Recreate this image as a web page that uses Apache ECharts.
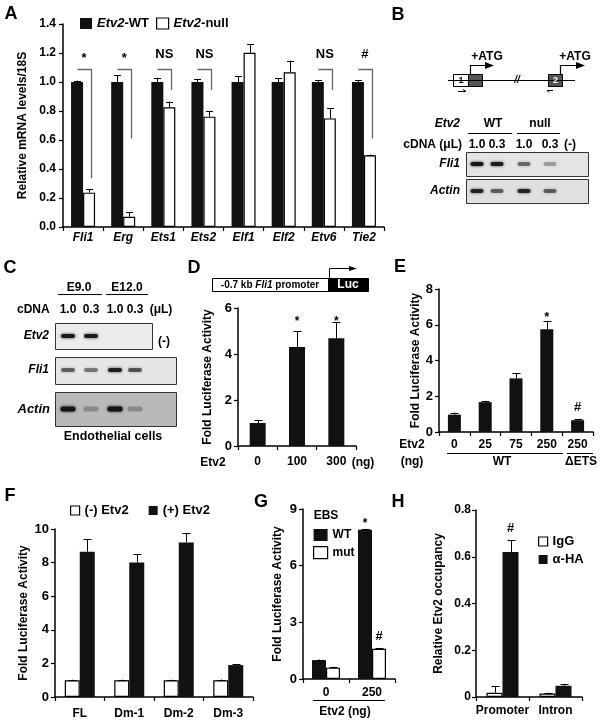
<!DOCTYPE html>
<html><head><meta charset="utf-8">
<script src="https://cdn.jsdelivr.net/npm/echarts@6/dist/echarts.min.js"></script>
<style>html,body{margin:0;padding:0;background:#fff}#c{width:603px;height:724px}</style>
</head><body><div id="c"></div><script>
// ---------- DATA ----------
const aCats = ['Fli1','Erg','Ets1','Ets2','Elf1','Elf2','Etv6','Tie2'];
const aWT = [1,1,1,1,1,1,1,1];
const aWTErr = [0.01,0.045,0.03,0.022,0.04,0.025,0.014,0.014];
const aNull = [0.237,0.071,0.825,0.761,1.202,1.067,0.749,0.494];
const aNullErr = [0.023,0.03,0.04,0.04,0.058,0.08,0.07,0.005];
const aSig = ['*','*','NS','NS','','','NS','#'];
const aBracketEnd = [0.336,0.61,0.945,0.945,null,null,0.945,0.61];

const dCats = ['0','100','300'];
const dVals = [1.0,4.3,4.68];
const dErr = [0.12,0.7,0.7];
const dSig = ['','*','*'];

const eCats = ['0','25','75','250','250d'];
const eTickLabels = ['0','25','75','250','250'];
const eVals = [0.97,1.67,3.0,5.75,0.66];
const eErr = [0.12,0.07,0.3,0.47,0.05];
const eSig = ['','','','*','#'];

const fCats = ['FL','Dm-1','Dm-2','Dm-3'];
const fNeg = [1.0,1.0,1.0,1.0];
const fNegErr = [0.03,0.03,0.03,0.04];
const fPos = [8.65,8.0,9.2,1.9];
const fPosErr = [0.75,0.5,0.55,0.05];

const gCats = ['0','250'];
const gWT = [1.0,7.9];
const gWTErr = [0.03,0.05];
const gMut = [0.6,1.6];
const gMutErr = [0.05,0.05];

const hCats = ['Promoter','Intron'];
const hIgG = [0.018,0.015];
const hIgGErr = [0.028,0.003];
const hHA = [0.62,0.048];
const hHAErr = [0.05,0.008];

// ---------- STYLE ----------
const FF = '"Liberation Sans", Arial, Helvetica, sans-serif';
const BLK = '#111';
const chart = echarts.init(document.getElementById('c'), null, {width:603, height:724});

function lab(extra) {
  return Object.assign({color:'#000', fontFamily:FF, fontWeight:'bold', fontSize:12, margin:6, interval:0, hideOverlap:false}, extra || {});
}
function xAx(gi, cats, opt) {
  return Object.assign({
    type:'category', gridIndex:gi, data:cats,
    axisLine:{lineStyle:{color:'#000', width:1.5}},
    axisTick:{show:true, length:4, lineStyle:{color:'#000', width:1.2}},
    axisLabel:lab(),
    splitLine:{show:false}
  }, opt || {});
}
function yAx(gi, max, interval, opt) {
  return Object.assign({
    type:'value', gridIndex:gi, min:0, max:max, interval:interval,
    axisLine:{show:true, lineStyle:{color:'#000', width:1.5}},
    axisTick:{show:true, length:4, lineStyle:{color:'#000', width:1.2}},
    axisLabel:{color:'#000', fontFamily:FF, fontWeight:'bold', fontSize:13, margin:6},
    splitLine:{show:false},
    nameLocation:'middle', nameRotate:90,
    nameTextStyle:{color:'#000', fontFamily:FF, fontWeight:'bold', fontSize:12}
  }, opt || {});
}
function bar(name, xi, data, color, w, opt) {
  return Object.assign({
    name:name, type:'bar', xAxisIndex:xi, yAxisIndex:xi, data:data, barWidth:w, barGap:'0%',
    itemStyle: color === '#fff' ? {color:'#fff', borderColor:'#000', borderWidth:1.2} : {color:color},
    silent:true, z:3
  }, opt || {});
}
function errs(xi, vals, errsArr, offset, cap) {
  return {
    type:'custom', xAxisIndex:xi, yAxisIndex:xi, silent:true, z:6,
    data: vals.map((v,i)=>[i, v, errsArr[i]]),
    renderItem:(p, api)=>{
      const c = api.value(0), v = api.value(1), e = api.value(2);
      const p0 = api.coord([c, v]), p1 = api.coord([c, v + e]);
      const x = Math.round(p0[0] + offset) + 0.5;
      return {type:'group', children:[
        {type:'line', shape:{x1:x, y1:p0[1], x2:x, y2:p1[1]}, style:{stroke:'#000', lineWidth:1}},
        {type:'line', shape:{x1:x-cap/2, y1:Math.round(p1[1])+0.5, x2:x+cap/2, y2:Math.round(p1[1])+0.5}, style:{stroke:'#000', lineWidth:1}}
      ]};
    }
  };
}
// annotation texts positioned via axis scales
function notes(xi, texts, ys, offset, size) {
  const data = [];
  texts.forEach((t,i)=>{ if (t) data.push([i, ys[i], i]); });
  return {
    type:'custom', xAxisIndex:xi, yAxisIndex:xi, silent:true, z:7, data:data,
    renderItem:(p, api)=>{
      const c = api.value(0), y = api.value(1), k = api.value(2);
      const pt = api.coord([c, y]);
      const t = texts[k];
      return {type:'text', x: pt[0] + offset, y: pt[1] + (t === '*' ? 4 : 0),
        style:{text:t, fill:'#000', font:'bold ' + (size||13) + 'px ' + FF, textAlign:'center', textVerticalAlign:'middle'}};
    }
  };
}
// A: significance brackets
const aBracketY = 1.09;
function brackets() {
  const data = [];
  aBracketEnd.forEach((v,i)=>{ if (v != null) data.push([i, v]); });
  return {
    type:'custom', xAxisIndex:0, yAxisIndex:0, silent:true, z:6, data:data,
    renderItem:(p, api)=>{
      const c = api.value(0), v = api.value(1);
      const top = api.coord([c, aBracketY]), end = api.coord([c, v]);
      const xL = Math.round(top[0] - 6) + 0.5, xR = Math.round(top[0] + 8) + 0.5, yT = Math.round(top[1]) + 0.5;
      return {type:'polyline', shape:{points:[[xL, yT],[xR, yT],[xR, end[1]]]}, style:{stroke:'#666', lineWidth:1.3, fill:null}};
    }
  };
}

// ---------- graphics (panel letters, gels, diagrams) ----------
const G = [];
function T(x, y, text, o) {
  o = o || {};
  G.push({type:'text', x:x, y:y, rotation:o.rot||0, z:20, silent:true,
    style:{text:text, fill:o.fill||'#000', font:(o.italic?'italic ':'') + 'bold ' + (o.size||12) + 'px ' + FF,
      textAlign:o.align||'center', textVerticalAlign:'middle',
      rich:{i:{fontStyle:'italic', fontWeight:'bold', fontSize:o.size||12, fontFamily:FF, fill:o.fill||'#000'}}}});
}
function R(x, y, w, h, fill, stroke, lw) {
  G.push({type:'rect', z:15, silent:true, shape:{x:x, y:y, width:w, height:h},
    style:{fill:fill, stroke:stroke||null, lineWidth:lw||1}});
}
function L(x1, y1, x2, y2, lw, col) {
  G.push({type:'line', z:16, silent:true, shape:{x1:x1, y1:y1, x2:x2, y2:y2}, style:{stroke:col||'#000', lineWidth:lw||1}});
}
function PL(pts, lw) {
  G.push({type:'polyline', z:16, silent:true, shape:{points:pts}, style:{stroke:'#000', lineWidth:lw||1, fill:null}});
}
function TRI(pts) {
  G.push({type:'polygon', z:16, silent:true, shape:{points:pts}, style:{fill:'#000'}});
}
function band(cx, cy, w, h, alpha) {
  G.push({type:'rect', z:17, silent:true, shape:{x:cx-w/2, y:cy-h/2, width:w, height:h, r:2},
    style:{fill:'rgba(20,20,20,' + alpha + ')', shadowBlur:3, shadowColor:'rgba(20,20,20,' + alpha + ')'}});
}

// panel letters
T(11, 14, 'A', {size:18}); T(398, 15, 'B', {size:18}); T(10, 268, 'C', {size:18});
T(194, 268, 'D', {size:18}); T(400, 267, 'E', {size:18}); T(10, 496, 'F', {size:18});
T(261, 502, 'G', {size:18}); T(398, 502, 'H', {size:18});

// ---- B: gene diagram ----
L(448, 80.5, 575, 80.5, 1);
R(453.5, 74.5, 15, 12, '#fff', '#000', 1);
R(468.5, 74.5, 14, 12, '#555', '#000', 1);
T(461, 81, '1', {size:9});
T(517, 80, '//', {size:10, italic:true});
R(548.5, 74.5, 14, 12, '#555', '#000', 1);
T(555.5, 81, '2', {size:9, fill:'#fff'});
PL([[470.5, 74],[470.5, 65.5],[486, 65.5]], 1.2);
TRI([[485, 62],[494, 65.5],[485, 69]]);
T(487, 57, '+ATG', {size:12});
PL([[560.5, 74],[560.5, 65.5],[577, 65.5]], 1.2);
TRI([[576, 62],[585, 65.5],[576, 69]]);
T(575, 57, '+ATG', {size:12});
PL([[458, 91.5],[466, 91.5],[463, 89.5]], 1);
PL([[553, 90.5],[547, 90.5],[549, 92.5]], 1);

// ---- B: gel ----
T(460, 124, '{i|Etv2}', {align:'right'});
T(493, 124, 'WT'); T(540, 124, 'null');
L(468, 133.5, 512, 133.5, 1); L(517, 133.5, 560, 133.5, 1);
T(462, 145, 'cDNA (\u03bcL)', {align:'right'});
const bLanes = [477, 497, 524, 550];
['1.0','0.3','1.0','0.3'].forEach((t,i)=>T(bLanes[i], 145, t));
T(570, 145, '(-)');
R(466.5, 152.5, 122, 24, '#e4e4e4', '#333', 1);
R(466.5, 179.5, 122, 24, '#e0e0e0', '#333', 1);
T(460, 164, '{i|Fli1}', {align:'right'});
T(460, 191, '{i|Actin}', {align:'right'});
[0.95, 0.9, 0.5, 0.3].forEach((a,i)=>band(bLanes[i], 164, 13, 4, a));
[0.85, 0.55, 0.85, 0.55].forEach((a,i)=>band(bLanes[i], 191, 13, 4, a));

// ---- C: gel ----
T(79, 288, 'E9.0'); T(127, 288, 'E12.0');
L(58, 294.5, 102, 294.5, 1); L(106, 294.5, 148, 294.5, 1);
T(17, 310, 'cDNA', {align:'left'});
const cLanes = [68, 91, 115, 135];
['1.0','0.3','1.0','0.3'].forEach((t,i)=>T(cLanes[i], 310, t));
T(161, 310, '(\u03bcL)');
R(55.5, 323.5, 97, 26, '#ececec', '#333', 1);
R(55.5, 357.5, 121, 27, '#e6e6e6', '#333', 1);
R(55.5, 392.5, 121, 34, '#b9b9b9', '#333', 1);
T(49, 336, '{i|Etv2}', {align:'right'});
T(49, 370, '{i|Fli1}', {align:'right'});
T(50, 409, '{i|Actin}', {align:'right', size:13});
T(164, 342, '(-)');
[0.95, 0.9].forEach((a,i)=>band(cLanes[i], 336, 14, 4, a));
[0.55, 0.45, 0.9, 0.6].forEach((a,i)=>band(cLanes[i], 370, 14, 4, a));
[0.95, 0.25, 1.0, 0.25].forEach((a,i)=>band(cLanes[i], 409, 15, 5, a));
T(113, 437, 'Endothelial cells', {size:12.5});

// ---- D: promoter construct ----
R(212.5, 278.5, 116, 13, '#fff', '#000', 1);
R(328.5, 278.5, 40, 13, '#000', '#000', 1);
T(270, 285, '-0.7 kb {i|Fli1} promoter', {size:10});
T(348, 285, 'Luc', {size:12, fill:'#fff'});
PL([[329.5, 278],[329.5, 268.5],[350, 268.5]], 1);
TRI([[349, 266],[357, 268.5],[349, 271]]);
T(213, 463, 'Etv2', {size:12}); T(363, 463, '(ng)', {size:12});

// ---- E extras ----
T(412, 445, 'Etv2', {size:12}); T(412, 462, '(ng)', {size:12});
L(447, 453.5, 563, 453.5, 1); L(567, 453.5, 593, 453.5, 1);
T(502, 462, 'WT', {size:12}); T(581, 462, '\u0394ETS', {size:12});

// ---- G extras ----
T(326, 516, 'EBS', {size:12});
L(313, 700.5, 385, 700.5, 1);
T(345, 712, 'Etv2 (ng)', {size:12});

// ---------- OPTION ----------
function legendText(sz) {
  return {color:'#000', fontFamily:FF, fontWeight:'bold', fontSize:sz,
    rich:{i:{fontStyle:'italic', fontWeight:'bold', fontSize:sz, fontFamily:FF, color:'#000'}}};
}
const whiteIcon = {color:'#fff', borderColor:'#000', borderWidth:1.2};
const blackIcon = {color:BLK};

const option = {
  animation:false,
  backgroundColor:'#fff',
  grid:[
    {left:63, top:24, width:321, height:203},   // A
    {left:238, top:308, width:118, height:138}, // D
    {left:439, top:289, width:154, height:143}, // E
    {left:55, top:529, width:198, height:168},  // F
    {left:303, top:509, width:92, height:170},  // G
    {left:476, top:510, width:106, height:187}  // H
  ],
  xAxis:[
    xAx(0, aCats, {axisLabel:lab({fontStyle:'italic', margin:5})}),
    xAx(1, dCats, {axisLabel:lab({margin:10})}),
    xAx(2, eCats, {axisLabel:lab({margin:7, formatter:(v, i)=>eTickLabels[i]})}),
    xAx(3, fCats, {axisLabel:lab({margin:11})}),
    xAx(4, gCats, {axisLabel:lab({margin:8})}),
    xAx(5, hCats, {axisLabel:lab({margin:8})})
  ],
  yAxis:[
    yAx(0, 1.4, 0.2, {name:'Relative mRNA levels/18S', nameGap:33,
      axisLabel:{color:'#000', fontFamily:FF, fontWeight:'bold', fontSize:12, margin:7, formatter:v=>v.toFixed(1)}}),
    yAx(1, 6, 2, {name:'Fold Luciferase Activity', nameGap:24}),
    yAx(2, 8, 2, {name:'Fold Luciferase Activity', nameGap:11}),
    yAx(3, 10, 2, {name:'Fold Luciferase Activity', nameGap:25}),
    yAx(4, 9, 3, {name:'Fold Luciferase Activity', nameGap:19}),
    yAx(5, 0.8, 0.2, {name:'Relative Etv2 occupancy', nameGap:31,
      axisLabel:{color:'#000', fontFamily:FF, fontWeight:'bold', fontSize:12, margin:5, formatter:v=> v===0 ? '0' : v.toFixed(1)}})
  ],
  legend:[
    {left:80, top:17, padding:0, itemWidth:12, itemHeight:11, itemGap:7, selectedMode:false, textStyle:legendText(13), z:10,
      formatter:n=>n.replace('Etv2','{i|Etv2}'),
      data:[{name:'Etv2-WT', itemStyle:blackIcon, icon:'rect'}, {name:'Etv2-null', itemStyle:whiteIcon, icon:'rect'}]},
    {left:70, top:504, padding:0, itemWidth:9, itemHeight:9, itemGap:20, selectedMode:false, textStyle:legendText(13), z:10,
      data:[{name:'(-) Etv2', itemStyle:whiteIcon, icon:'rect'}, {name:'(+) Etv2', itemStyle:blackIcon, icon:'rect'}]},
    {left:313, top:529, padding:0, orient:'vertical', itemWidth:14, itemHeight:12, itemGap:5, selectedMode:false, textStyle:legendText(12), z:10,
      data:[{name:'WT', itemStyle:blackIcon, icon:'rect'}, {name:'mut', itemStyle:whiteIcon, icon:'rect'}]},
    {left:538, top:535, padding:0, orient:'vertical', itemWidth:9, itemHeight:9, itemGap:5, selectedMode:false, textStyle:legendText(13), z:10,
      data:[{name:'IgG', itemStyle:whiteIcon, icon:'rect'}, {name:'\u03b1-HA', itemStyle:blackIcon, icon:'rect'}]}
  ],
  series:[
    // A
    bar('Etv2-WT', 0, aWT, BLK, 12),
    bar('Etv2-null', 0, aNull, '#fff', 12),
    errs(0, aWT, aWTErr, -6, 7), errs(0, aNull, aNullErr, 6, 7),
    brackets(),
    notes(0, aSig, aSig.map(()=>1.19), 1, 13),
    // D
    bar('D', 1, dVals, BLK, 16),
    errs(1, dVals, dErr, 0, 8),
    notes(1, dSig, [0, 5.6, 5.6], 0, 12),
    // E
    bar('E', 2, eVals, BLK, 13),
    errs(2, eVals, eErr, 0, 8),
    notes(2, eSig, [0,0,0,6.62,1.4], 0, 13),
    // F
    bar('(-) Etv2', 3, fNeg, '#fff', 15),
    bar('(+) Etv2', 3, fPos, BLK, 15),
    errs(3, fNeg, fNegErr, -7.5, 8), errs(3, fPos, fPosErr, 7.5, 8),
    // G
    bar('WT', 4, gWT, BLK, 14),
    bar('mut', 4, gMut, '#fff', 14),
    errs(4, gWT, gWTErr, -7, 8), errs(4, gMut, gMutErr, 7, 8),
    notes(4, ['', '*'], [0, 8.45], -7, 12),
    notes(4, ['', '#'], [0, 2.25], 7, 13),
    // H
    bar('IgG', 5, hIgG, '#fff', 16),
    bar('\u03b1-HA', 5, hHA, BLK, 16),
    errs(5, hIgG, hIgGErr, -8, 8), errs(5, hHA, hHAErr, 8, 8),
    notes(5, ['#', ''], [0.72, 0], 8, 13)
  ],
  graphic: G
};
chart.setOption(option);
</script></body></html>
